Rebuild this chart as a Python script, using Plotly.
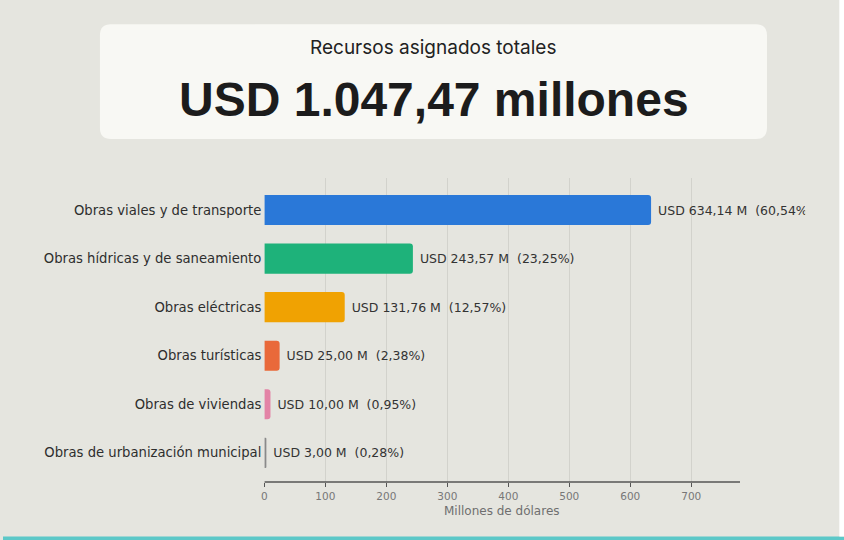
import plotly.graph_objects as go

categories = [
    "Obras viales y de transporte",
    "Obras hídricas y de saneamiento",
    "Obras eléctricas",
    "Obras turísticas",
    "Obras de viviendas",
    "Obras de urbanización municipal",
]
values = [634.14, 243.57, 131.76, 25.00, 10.00, 3.00]
percents = [60.54, 23.25, 12.57, 2.38, 0.95, 0.28]
colors = ["#2a78d8", "#1eb27a", "#f0a202", "#e9693a", "#e383a6", "#8a8a8a"]
tick_vals = [0, 100, 200, 300, 400, 500, 600, 700]
header_small = "Recursos asignados totales"
header_big = "USD 1.047,47 millones"
x_title = "Millones de dólares"

W, H = 844, 540
BG = "#e5e5df"


def fmt(v):
    return f"{v:,.2f}".replace(",", "X").replace(".", ",").replace("X", ".")


labels = [f"\u00a0USD {fmt(v)} M\u00a0\u00a0({fmt(p)}%)" for v, p in zip(values, percents)]

# pixel geometry of the plot area
px_left, px_right = 262.3, 805.0
px_top, px_bottom = 178.0, 482.0
px_per_unit = 428.4 / 700.0
x_max = (px_right - px_left) / px_per_unit


def px(x):
    return x / W


def py(y):
    return 1 - y / H


def rounded_rect(x0, y0, x1, y1, r):
    rx, ry = r / W, r / H
    X0, X1, Y0, Y1 = px(x0), px(x1), py(y1), py(y0)  # Y0 bottom, Y1 top
    return (
        f"M {X0 + rx} {Y0} L {X1 - rx} {Y0} Q {X1} {Y0} {X1} {Y0 + ry} "
        f"L {X1} {Y1 - ry} Q {X1} {Y1} {X1 - rx} {Y1} "
        f"L {X0 + rx} {Y1} Q {X0} {Y1} {X0} {Y1 - ry} "
        f"L {X0} {Y0 + ry} Q {X0} {Y0} {X0 + rx} {Y0} Z"
    )


fig = go.Figure()
fig.add_trace(go.Bar(
    y=categories,
    x=values,
    orientation="h",
    marker=dict(color=colors, cornerradius=3, line=dict(width=0)),
    width=0.62,
    text=labels,
    textposition="outside",
    cliponaxis=True,
    constraintext="none",
    textfont=dict(family="DejaVu Sans", size=12.5, color="#333333"),
    hoverinfo="skip",
))

fig.update_layout(
    width=W, height=H,
    margin=dict(l=0, r=0, t=0, b=0),
    paper_bgcolor=BG,
    plot_bgcolor=BG,
    showlegend=False,
    xaxis=dict(
        domain=[px_left / W, px_right / W],
        range=[0, x_max],
        tickvals=tick_vals,
        ticktext=[str(v) for v in tick_vals],
        showgrid=True,
        gridcolor="#d2d2cc",
        gridwidth=1,
        zeroline=False,
        showline=False,
        ticks="outside",
        ticklen=4,
        tickwidth=1,
        tickcolor="#555555",
        tickfont=dict(family="DejaVu Sans", size=10.5, color="#777777"),
        fixedrange=True,
    ),
    yaxis=dict(
        domain=[1 - px_bottom / H, 1 - px_top / H],
        type="category",
        categoryorder="array",
        categoryarray=categories,
        range=[5.6, -0.66],
        showgrid=False,
        zeroline=False,
        showline=False,
        ticks="",
        ticklabelstandoff=2,
        tickfont=dict(family="DejaVu Sans", size=13.2, color="#2e2e2e"),
        fixedrange=True,
    ),
    shapes=[
        # header card
        dict(type="path", xref="paper", yref="paper", layer="below",
             path=rounded_rect(97.3, 24.3, 766.7, 139.0, 11),
             fillcolor="#f8f8f4", line=dict(width=0)),
        # x axis line
        dict(type="line", xref="x", yref="paper", x0=0, x1=780,
             y0=py(px_bottom), y1=py(px_bottom),
             line=dict(color="#555555", width=1.5)),
        # bottom teal stripe
        dict(type="rect", xref="paper", yref="paper", x0=0, x1=1,
             y0=0, y1=3.5 / H, fillcolor="#5cc8c8", line=dict(width=0)),
        # right white strip
        dict(type="rect", xref="paper", yref="paper", x0=839.3 / W, x1=1,
             y0=3.5 / H, y1=1, fillcolor="#ffffff", line=dict(width=0)),
    ],
    annotations=[
        dict(text=header_small, xref="paper", yref="paper",
             x=px(432), y=py(47.5), xanchor="center", yanchor="middle",
             showarrow=False,
             font=dict(family="Inter", size=19, color="#222222")),
        dict(text=f"<b>{header_big}</b>", xref="paper", yref="paper",
             x=px(432.6), y=py(99), xanchor="center", yanchor="middle",
             showarrow=False,
             font=dict(family="Liberation Sans", size=48, color="#1c1c1c")),
        dict(text=x_title, xref="paper", yref="paper",
             x=px(500.6), y=py(510.7), xanchor="center", yanchor="middle",
             showarrow=False,
             font=dict(family="DejaVu Sans", size=12, color="#6f6f6f")),
    ],
)

fig.write_html("out.html")
